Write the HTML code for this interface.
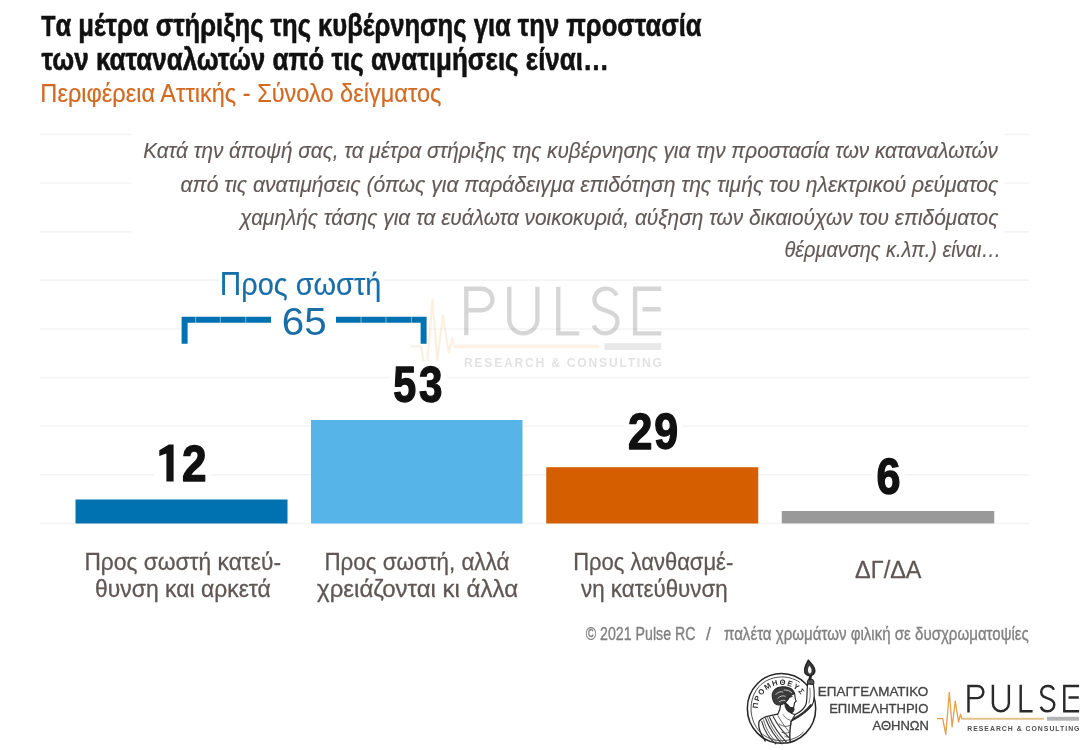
<!DOCTYPE html>
<html lang="el"><head><meta charset="utf-8"><title>Pulse RC</title>
<style>html,body{margin:0;padding:0;background:#fff;}body{width:1090px;height:750px;overflow:hidden;font-family:"Liberation Sans",sans-serif;}svg{display:block;font-family:"Liberation Sans",sans-serif;filter:blur(0.6px);}</style>
</head><body>
<svg width="1090" height="750" viewBox="0 0 1090 750">
<rect x="0" y="0" width="1090" height="750" fill="#ffffff"/>
<g stroke="#f4f4f4" stroke-width="1.5">
<line x1="40" y1="523.50" x2="1029" y2="523.50"/>
<line x1="40" y1="474.86" x2="1029" y2="474.86"/>
<line x1="40" y1="426.22" x2="1029" y2="426.22"/>
<line x1="40" y1="377.58" x2="1029" y2="377.58"/>
<line x1="40" y1="328.94" x2="1029" y2="328.94"/>
<line x1="40" y1="280.30" x2="1029" y2="280.30"/>
<line x1="40" y1="231.66" x2="1029" y2="231.66"/>
<line x1="40" y1="183.02" x2="1029" y2="183.02"/>
<line x1="40" y1="134.38" x2="1029" y2="134.38"/>
</g>
<rect x="132" y="124" width="872" height="146" fill="#ffffff"/>
<text x="41.35" y="35.70" font-size="31.5" fill="#111111" font-weight="bold" font-style="normal" textLength="660.27" lengthAdjust="spacingAndGlyphs" stroke="#111111" stroke-width="0.6" stroke-linejoin="round"><tspan font-size="28.6">Τ</tspan>α μέτρα στήριξης της κυβέρνησης για την προστασία</text>
<text x="41.45" y="69.50" font-size="31.5" fill="#111111" font-weight="bold" font-style="normal" textLength="567.48" lengthAdjust="spacingAndGlyphs" stroke="#111111" stroke-width="0.6" stroke-linejoin="round">των καταναλωτών από τις ανατιμήσεις είναι…</text>
<text x="40.36" y="101.90" font-size="25" fill="#d26a22" font-weight="normal" font-style="normal" textLength="401.06" lengthAdjust="spacingAndGlyphs" stroke="#d26a22" stroke-width="0.2" stroke-linejoin="round">Περιφέρεια Αττικής - Σύνολο δείγματος</text>
<text x="143.18" y="158.40" font-size="22.2" fill="#625956" font-weight="normal" font-style="italic" textLength="854.77" lengthAdjust="spacingAndGlyphs" stroke="#625956" stroke-width="0.15" stroke-linejoin="round">Κατά την άποψή σας, τα μέτρα στήριξης της κυβέρνησης για την προστασία των καταναλωτών</text>
<text x="180.46" y="191.50" font-size="22.2" fill="#625956" font-weight="normal" font-style="italic" textLength="817.84" lengthAdjust="spacingAndGlyphs" stroke="#625956" stroke-width="0.15" stroke-linejoin="round">από τις ανατιμήσεις (όπως για παράδειγμα επιδότηση της τιμής του ηλεκτρικού ρεύματος</text>
<text x="240.11" y="224.60" font-size="22.2" fill="#625956" font-weight="normal" font-style="italic" textLength="758.24" lengthAdjust="spacingAndGlyphs" stroke="#625956" stroke-width="0.15" stroke-linejoin="round">χαμηλής τάσης για τα ευάλωτα νοικοκυριά, αύξηση των δικαιούχων του επιδόματος</text>
<text x="784.52" y="257.40" font-size="22.2" fill="#625956" font-weight="normal" font-style="italic" textLength="216.74" lengthAdjust="spacingAndGlyphs" stroke="#625956" stroke-width="0.15" stroke-linejoin="round">θέρμανσης κ.λπ.) είναι…</text>
<g transform="translate(464 286.7) scale(1.762)" opacity="0.19">
<g fill="none" stroke="#2a2a2a" stroke-width="2.45" stroke-linejoin="miter">
<path d="M1.3 27.6 V1.15 H10.05 A6.1 6.1 0 0 1 10.05 13.35 H1.3"/>
<path d="M25.7 0 V18.5 A7.975 7.975 0 0 0 41.65 18.5 V0"/>
<path d="M53.5 0 V26.45 H65.4"/>
<path d="M86.7 4.9 A6.5 6.5 0 0 0 80.3 1.15 A6.2 6.2 0 0 0 74 7.3 C74 11.4 77 12.4 80.5 13.6 C84.5 14.9 87.1 16.2 87.1 19.8 A6.7 6.7 0 0 1 80.5 26.45 A7 7 0 0 1 73.6 22.0"/>
<path d="M111.9 1.15 H97.1 V26.45 H111.9 M101.3 12.8 H111.6"/>
</g>
<path d="M-30.1 33.9 H-24.5 L-21.4 49.5 L-17.9 7.5 L-15.1 42 L-12 16.3 L-8.6 37.4 L-6.7 29.4 L-5.3 33.9" fill="none" stroke="#ecb66a" stroke-width="1.3" stroke-linejoin="round"/>
<path d="M-6 33.9 H76.8" fill="none" stroke="#ecc078" stroke-width="2.1"/>
<rect x="79.7" y="32.0" width="32.2" height="3.9" fill="#8a8a8a"/>
<text x="0" y="45.8" font-size="6.9" font-weight="bold" fill="#666666" textLength="112.3" lengthAdjust="spacing">RESEARCH &amp; CONSULTING</text>
</g>
<rect x="75.5" y="499.5" width="212" height="24" fill="#0072b2"/>
<rect x="311" y="420" width="211.5" height="103.5" fill="#56b4e9"/>
<rect x="546.25" y="467.2" width="212" height="56.3" fill="#d55e00"/>
<rect x="781.75" y="511" width="212.5" height="12.4" fill="#999999"/>
<g fill="#ffffff"><rect x="154" y="440" width="57" height="46"/><rect x="389" y="361" width="58" height="46"/><rect x="624" y="407" width="58" height="46"/><rect x="872" y="452" width="33" height="46"/></g>
<path d="M173.6 444.5 V481.5 H166.4 V453.4 L159.3 456.0 V450.2 L168.9 444.5 Z" fill="#111111"/>
<text x="181.97" y="480.60" font-size="50.5" fill="#111111" font-weight="bold" font-style="normal" textLength="24.52" lengthAdjust="spacingAndGlyphs" stroke="#111111" stroke-width="1.4" stroke-linejoin="round">2</text>
<text x="393.37" y="402.30" font-size="50.5" fill="#111111" font-weight="bold" font-style="normal" textLength="22.92" lengthAdjust="spacingAndGlyphs" stroke="#111111" stroke-width="1.4" stroke-linejoin="round">5</text>
<text x="419.11" y="402.30" font-size="50.5" fill="#111111" font-weight="bold" font-style="normal" textLength="23.44" lengthAdjust="spacingAndGlyphs" stroke="#111111" stroke-width="1.4" stroke-linejoin="round">3</text>
<text x="627.97" y="448.80" font-size="50.5" fill="#111111" font-weight="bold" font-style="normal" textLength="24.43" lengthAdjust="spacingAndGlyphs" stroke="#111111" stroke-width="1.4" stroke-linejoin="round">2</text>
<text x="654.20" y="448.80" font-size="50.5" fill="#111111" font-weight="bold" font-style="normal" textLength="23.88" lengthAdjust="spacingAndGlyphs" stroke="#111111" stroke-width="1.4" stroke-linejoin="round">9</text>
<text x="876.48" y="493.80" font-size="50.5" fill="#111111" font-weight="bold" font-style="normal" textLength="24.01" lengthAdjust="spacingAndGlyphs" stroke="#111111" stroke-width="1.4" stroke-linejoin="round">6</text>
<rect x="219" y="266" width="164" height="38" fill="#ffffff"/>
<rect x="181" y="304" width="246.5" height="41" fill="#ffffff"/>
<text x="219.83" y="294.60" font-size="32" fill="#1a6ea8" font-weight="normal" font-style="normal" textLength="161.56" lengthAdjust="spacingAndGlyphs" stroke="#1a6ea8" stroke-width="0.2" stroke-linejoin="round"><tspan font-size="33">Π</tspan>ρος σωστή</text>
<text x="281.75" y="334.50" font-size="39.5" fill="#1a6ea8" font-weight="normal" font-style="normal" textLength="44.98" lengthAdjust="spacingAndGlyphs">65</text>
<path d="M184.6 343.8 V319.8 H271" fill="none" stroke="#0072b2" stroke-width="6"/>
<path d="M336 319.8 H423.6 V343.8" fill="none" stroke="#0072b2" stroke-width="6"/>
<g stroke="#ffffff" stroke-opacity="0.4" stroke-width="1.2"><path d="M195.6 316.5 V323 M220.4 316.5 V323 M245.7 316.5 V323 M361 316.5 V323 M386 316.5 V323 M411.5 316.5 V323"/></g>
<text x="84.42" y="570.30" font-size="24.4" fill="#5f5754" font-weight="normal" font-style="normal" textLength="196.59" lengthAdjust="spacingAndGlyphs" stroke="#5f5754" stroke-width="0.3" stroke-linejoin="round">Προς σωστή κατεύ-</text>
<text x="95.03" y="597.30" font-size="24.4" fill="#5f5754" font-weight="normal" font-style="normal" textLength="175.82" lengthAdjust="spacingAndGlyphs" stroke="#5f5754" stroke-width="0.3" stroke-linejoin="round">θυνση και αρκετά</text>
<text x="324.44" y="570.30" font-size="24.4" fill="#5f5754" font-weight="normal" font-style="normal" textLength="184.88" lengthAdjust="spacingAndGlyphs" stroke="#5f5754" stroke-width="0.3" stroke-linejoin="round">Προς σωστή, αλλά</text>
<text x="317.10" y="597.30" font-size="24.4" fill="#5f5754" font-weight="normal" font-style="normal" textLength="200.93" lengthAdjust="spacingAndGlyphs" stroke="#5f5754" stroke-width="0.3" stroke-linejoin="round">χρειάζονται κι άλλα</text>
<text x="573.23" y="570.30" font-size="24.4" fill="#5f5754" font-weight="normal" font-style="normal" textLength="160.00" lengthAdjust="spacingAndGlyphs" stroke="#5f5754" stroke-width="0.3" stroke-linejoin="round">Προς λανθασμέ-</text>
<text x="581.08" y="597.30" font-size="24.4" fill="#5f5754" font-weight="normal" font-style="normal" textLength="146.59" lengthAdjust="spacingAndGlyphs" stroke="#5f5754" stroke-width="0.3" stroke-linejoin="round">νη κατεύθυνση</text>
<text x="855.05" y="578.10" font-size="24.4" fill="#5f5754" font-weight="normal" font-style="normal" textLength="66.48" lengthAdjust="spacingAndGlyphs" stroke="#5f5754" stroke-width="0.3" stroke-linejoin="round">ΔΓ/ΔΑ</text>
<text x="585.74" y="640.00" font-size="17.8" fill="#808080" font-weight="normal" font-style="normal" textLength="109.68" lengthAdjust="spacingAndGlyphs" stroke="#808080" stroke-width="0.35" stroke-linejoin="round">© 2021 Pulse RC</text>
<text x="705.90" y="640.00" font-size="17.8" fill="#808080" font-weight="normal" font-style="normal" textLength="4.82" lengthAdjust="spacingAndGlyphs" stroke="#808080" stroke-width="0.35" stroke-linejoin="round">/</text>
<text x="723.97" y="640.00" font-size="17.8" fill="#808080" font-weight="normal" font-style="normal" textLength="304.86" lengthAdjust="spacingAndGlyphs" stroke="#808080" stroke-width="0.35" stroke-linejoin="round">παλέτα χρωμάτων φιλική σε δυσχρωματοψίες</text>
<g transform="translate(967.2 684.8)">
<g fill="none" stroke="#2a2a2a" stroke-width="2.45" stroke-linejoin="miter">
<path d="M1.3 27.6 V1.15 H10.05 A6.1 6.1 0 0 1 10.05 13.35 H1.3"/>
<path d="M25.7 0 V18.5 A7.975 7.975 0 0 0 41.65 18.5 V0"/>
<path d="M53.5 0 V26.45 H65.4"/>
<path d="M86.7 4.9 A6.5 6.5 0 0 0 80.3 1.15 A6.2 6.2 0 0 0 74 7.3 C74 11.4 77 12.4 80.5 13.6 C84.5 14.9 87.1 16.2 87.1 19.8 A6.7 6.7 0 0 1 80.5 26.45 A7 7 0 0 1 73.6 22.0"/>
<path d="M111.9 1.15 H97.1 V26.45 H111.9 M101.3 12.8 H111.6"/>
</g>
<path d="M-30.1 33.9 H-24.5 L-21.4 49.5 L-17.9 7.5 L-15.1 42 L-12 16.3 L-8.6 37.4 L-6.7 29.4 L-5.3 33.9" fill="none" stroke="#e2a04a" stroke-width="1.3" stroke-linejoin="round"/>
<path d="M-6 33.9 H76.8" fill="none" stroke="#e4c388" stroke-width="2.1"/>
<rect x="79.7" y="32.0" width="32.2" height="3.9" fill="#b4b4b4"/>
<text x="0" y="45.8" font-size="6.9" font-weight="bold" fill="#505050" textLength="112.3" lengthAdjust="spacing">RESEARCH &amp; CONSULTING</text>
</g>
<text x="817.81" y="695.60" font-size="12.6" fill="#444444" font-weight="normal" font-style="normal" textLength="110.51" lengthAdjust="spacingAndGlyphs" stroke="#444444" stroke-width="0.3" stroke-linejoin="round">ΕΠΑΓΓΕΛΜΑΤΙΚΟ</text>
<text x="829.17" y="712.80" font-size="12.6" fill="#444444" font-weight="normal" font-style="normal" textLength="99.22" lengthAdjust="spacingAndGlyphs" stroke="#444444" stroke-width="0.3" stroke-linejoin="round">ΕΠΙΜΕΛΗΤΗΡΙΟ</text>
<text x="872.49" y="730.30" font-size="12.6" fill="#444444" font-weight="normal" font-style="normal" textLength="56.42" lengthAdjust="spacingAndGlyphs" stroke="#444444" stroke-width="0.3" stroke-linejoin="round">ΑΘΗΝΩΝ</text>
<g transform="translate(740 655) scale(0.12658)" fill="none" stroke="#262626" stroke-linecap="round" stroke-linejoin="round">
<ellipse cx="328" cy="422" rx="270" ry="276" stroke-width="12"/>
<path d="M470 215 C380 150 230 160 150 250 C60 350 70 520 160 610 C250 700 420 700 500 610" stroke-width="7" stroke="#3a3a3a"/>
<g transform="translate(8 12)">
<path d="M252 338 C234 292 260 248 312 240 C364 232 414 254 423 292 C406 300 394 304 383 320 C374 340 362 354 347 368 C322 384 290 388 268 372 C256 358 250 350 252 338 Z" fill="#3c3c3c" stroke-width="8"/>
<path d="M275 300 C290 280 310 275 330 280 M290 332 C305 312 330 306 350 313 M302 357 C317 347 332 344 347 347 M340 265 C360 262 385 270 400 285" stroke="#e8e8e8" stroke-width="6"/>
<path d="M423 292 C428 312 422 326 436 352 C428 360 420 364 421 372 C423 388 413 398 415 406" stroke-width="9"/>
<path d="M345 366 C348 404 364 436 398 446 C416 434 424 418 415 402 C398 408 378 398 368 378 Z" fill="#2e2e2e" stroke-width="8"/>
<path d="M380 322 L404 316" stroke-width="8"/>
</g>
<path d="M322 388 C320 412 316 438 298 468" stroke-width="9"/>
<path d="M398 446 C400 458 412 468 436 470" stroke-width="8"/>
<path d="M310 545 C345 572 382 568 404 548 M330 610 C350 622 372 620 388 610" stroke-width="7" stroke="#4a4a4a"/>
<path d="M404 524 C458 494 524 454 568 400 C586 372 590 300 580 232 L534 226 C526 300 534 366 518 398 C502 428 474 452 436 470 Z" fill="#ffffff" stroke-width="9"/>
<path d="M426 504 C476 478 526 442 560 396" stroke-width="18" stroke="#333"/>
<path d="M545 380 C556 340 556 300 552 262" stroke-width="6" stroke="#555"/>
<path d="M404 524 C394 584 388 642 398 692" stroke-width="11"/>
<path d="M298 468 C250 478 182 480 152 522 C140 562 160 622 200 680" stroke-width="10"/>
<path d="M232 490 C262 560 302 622 372 694 M202 502 C232 580 272 642 332 702 M172 524 C192 600 232 660 282 702 M262 486 C290 540 330 600 386 652" stroke-width="9" stroke="#3a3a3a"/>
<path d="M186 512 C206 590 246 652 300 700 M218 496 C246 572 288 634 350 698 M300 480 C322 520 352 566 392 610" stroke-width="7" stroke="#555"/>
<path d="M340 470 C360 500 380 512 404 516 M352 640 C366 650 380 650 392 644" stroke-width="6" stroke="#555"/>
<path d="M534 228 C528 200 540 186 560 190 C584 194 590 214 580 234 Z" fill="#555" stroke-width="8"/>
<path d="M552 190 L562 150" stroke-width="22"/>
<path d="M540 40 C558 70 604 92 588 140 C578 164 545 172 524 154 C494 128 514 84 540 40 Z" fill="#3a3a3a" stroke-width="12"/>
<path d="M548 84 C568 106 572 134 552 148 C534 138 532 108 548 84 Z" fill="#ffffff" stroke="none"/>
<path id="coinarc" d="M142.0 422.0 A186 186 0 0 1 482.2 318.0" stroke="none"/>
<text font-size="60" font-weight="bold" fill="#2c2c2c" stroke="none" textLength="470" lengthAdjust="spacing"><textPath href="#coinarc">ΠΡΟΜΗΘΕΥΣ</textPath></text>
</g>
</svg>
</body></html>
